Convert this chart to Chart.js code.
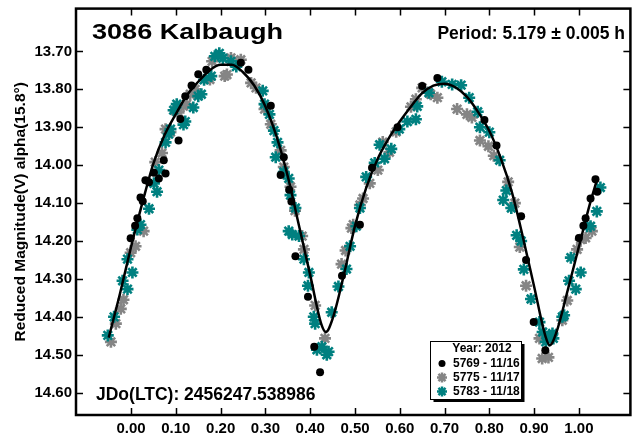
<!DOCTYPE html>
<html>
<head>
<meta charset="utf-8">
<script src="https://cdn.jsdelivr.net/npm/chart.js@4.4.0/dist/chart.umd.min.js"></script>
<style>
  html, body { margin: 0; padding: 0; background: #fff; }
  #wrap { width: 639px; height: 438px; }
</style>
</head>
<body>
<div id="wrap"><canvas id="lc" width="639" height="438"></canvas></div>
<script>
// Lightcurve 3086 Kalbaugh - phased data, three nights

const xTicks = [0.0, 0.1, 0.2, 0.3, 0.4, 0.5, 0.6, 0.7, 0.8, 0.9, 1.0];
const yTicks = [13.7, 13.8, 13.9, 14.0, 14.1, 14.2, 14.3, 14.4, 14.5, 14.6];

const seriesLabels = ['5769 - 11/16', '5775 - 11/17', '5783 - 11/18'];
const legendTitle = 'Year: 2012';

// 5769 - 11/16 (black circles)
const blackPhase = [-0.001, 0.009, 0.014, 0.021, 0.026, 0.032, 0.040, 0.051, 0.062, 0.073, 0.077, 0.106, 0.110, 0.121, 0.135, 0.150, 0.168,
  0.245, 0.262, 0.312, 0.334, 0.341, 0.353, 0.358, 0.367, 0.395, 0.409, 0.422, 0.471, 0.511, 0.538, 0.595, 0.650, 0.684,
  0.789, 0.816, 0.871, 0.882, 0.899, 0.925, 1.000, 1.010, 1.015, 1.026, 1.037, 1.041];
const blackMag = [14.193, 14.160, 14.140, 14.085, 14.095, 14.040, 14.045, 14.020, 14.035, 13.987, 14.022, 13.935, 13.878, 13.818, 13.790, 13.760, 13.748,
  13.730, 13.748, 13.843, 14.026, 13.979, 14.065, 14.096, 14.240, 14.347, 14.479, 14.546, 14.292, 14.157, 14.007, 13.900, 13.791, 13.770,
  13.881, 13.948, 14.135, 14.250, 14.414, 14.488, 14.192, 14.160, 14.140, 14.088, 14.037, 14.070];

// 5775 - 11/17 (gray asterisks)
const grayPhase = [-0.045, -0.034, -0.023, -0.017, -0.001, 0.010, 0.028, 0.054, 0.069, 0.077, 0.088, 0.099, 0.106, 0.117, 0.124, 0.132, 0.143,
  0.176, 0.181, 0.209, 0.214, 0.223, 0.245, 0.268, 0.279, 0.298, 0.312, 0.334, 0.341, 0.356, 0.366, 0.382, 0.386, 0.411, 0.433,
  0.470, 0.479, 0.492, 0.496, 0.511, 0.518, 0.533, 0.551, 0.562, 0.577, 0.592, 0.625, 0.636, 0.650, 0.669, 0.684, 0.728, 0.750,
  0.761, 0.779, 0.798, 0.810, 0.842, 0.857, 0.868, 0.882, 0.912, 0.918, 0.932, 0.963, 0.974, 0.996, 1.004, 1.015, 1.029];
const grayMag = [14.466, 14.418, 14.379, 14.355, 14.231, 14.214, 14.174, 13.992, 13.968, 13.905, 13.913, 13.857, 13.861, 13.844, 13.839, 13.813, 13.800,
  13.774, 13.726, 13.765, 13.761, 13.717, 13.722, 13.783, 13.796, 13.852, 13.892, 13.961, 14.005, 14.057, 14.120, 14.187, 14.222, 14.370, 14.457,
  14.261, 14.225, 14.166, 14.157, 14.105, 14.088, 14.048, 14.013, 13.939, 13.966, 13.912, 13.846, 13.826, 13.796, 13.813, 13.822, 13.852, 13.866,
  13.874, 13.935, 13.950, 13.975, 14.044, 14.100, 14.216, 14.318, 14.457, 14.510, 14.507, 14.409, 14.357, 14.222, 14.196, 14.192, 14.174];

// 5783 - 11/18 (teal asterisks)
const tealPhase = [-0.052, -0.038, -0.019, -0.008, -0.008, 0.003, 0.014, 0.021, 0.040, 0.051, 0.058, 0.062, 0.077, 0.084, 0.088, 0.095, 0.102,
  0.117, 0.121, 0.139, 0.150, 0.157, 0.163, 0.179, 0.187, 0.197, 0.205, 0.223, 0.235, 0.294, 0.298, 0.309, 0.319, 0.327, 0.323,
  0.341, 0.352, 0.356, 0.367, 0.352, 0.360, 0.375, 0.386, 0.397, 0.395, 0.408, 0.411, 0.415, 0.426, 0.437, 0.441, 0.448, 0.463,
  0.481, 0.489, 0.503, 0.511, 0.525, 0.544, 0.555, 0.566, 0.581, 0.599, 0.617, 0.636, 0.639, 0.665, 0.694, 0.717, 0.737, 0.755,
  0.774, 0.779, 0.800, 0.823, 0.831, 0.838, 0.849, 0.861, 0.871, 0.877, 0.893, 0.912, 0.919, 0.926, 0.934, 0.941, 0.943, 0.963,
  0.967, 0.978, 0.982, 0.993, 1.004, 1.018, 1.026, 1.040, 1.048];
const tealMag = [14.449, 14.400, 14.305, 14.327, 14.248, 14.283, 14.170, 14.157, 14.115, 14.048, 14.070, 14.013, 13.940, 13.918, 13.905, 13.855, 13.839,
  13.893, 13.885, 13.848, 13.818, 13.813, 13.775, 13.765, 13.713, 13.705, 13.718, 13.726, 13.740, 13.804, 13.839, 13.866, 13.909, 13.940, 13.979,
  14.018, 14.035, 14.079, 14.113, 14.174, 14.183, 14.187, 14.248, 14.283, 14.318, 14.400, 14.418, 14.487, 14.479, 14.500, 14.492, 14.388, 14.320,
  14.274, 14.214, 14.161, 14.113, 14.031, 13.994, 13.946, 13.983, 13.957, 13.905, 13.885, 13.879, 13.845, 13.809, 13.780, 13.787, 13.789, 13.822,
  13.859, 13.900, 13.913, 13.987, 14.092, 14.067, 14.113, 14.185, 14.200, 14.275, 14.353, 14.414, 14.440, 14.466, 14.453, 14.444, 14.457, 14.400,
  14.396, 14.305, 14.244, 14.327, 14.283, 14.161, 14.161, 14.122, 14.059];

// Fourier fit
const fitPhase = [-0.050, -0.025, 0.000, 0.025, 0.050, 0.075, 0.100, 0.125, 0.150, 0.175, 0.200, 0.225, 0.250, 0.275, 0.300, 0.325,
  0.350, 0.375, 0.400, 0.425, 0.435, 0.450, 0.475, 0.500, 0.525, 0.550, 0.575, 0.600, 0.625, 0.650, 0.675, 0.700, 0.725, 0.750,
  0.775, 0.800, 0.825, 0.850, 0.875, 0.900, 0.925, 0.935, 0.950, 0.975, 1.000, 1.025, 1.040];
const fitMag = [14.455, 14.340, 14.215, 14.100, 13.995, 13.920, 13.865, 13.815, 13.780, 13.750, 13.735, 13.735, 13.755, 13.790, 13.845, 13.925,
  14.030, 14.160, 14.290, 14.420, 14.440, 14.405, 14.290, 14.160, 14.060, 13.985, 13.930, 13.885, 13.845, 13.810, 13.790, 13.785, 13.795, 13.820,
  13.860, 13.910, 13.980, 14.070, 14.190, 14.320, 14.450, 14.475, 14.440, 14.330, 14.215, 14.100, 14.040];

const toPoints = (xs, ys) => xs.map((x, i) => ({ x: x, y: ys[i] }));

const FONT = "'Liberation Sans', Arial, sans-serif";
const TEAL = '#008080';
const GRAY = '#858585';

function drawMarker(ctx, style, color, r, x, y) {
    ctx.save();
    if (style === 'circle') {
        ctx.fillStyle = color;
        ctx.beginPath();
        ctx.arc(x, y, r, 0, Math.PI * 2);
        ctx.fill();
    } else {
        ctx.strokeStyle = color;
        ctx.lineWidth = 2.5;
        ctx.beginPath();
        for (let k = 0; k < 4; k++) {
            const a = k * Math.PI / 4;
            ctx.moveTo(x - Math.cos(a) * r, y - Math.sin(a) * r);
            ctx.lineTo(x + Math.cos(a) * r, y + Math.sin(a) * r);
        }
        ctx.stroke();
    }
    ctx.restore();
}

function stretchText(ctx, text, x, y, width) {
    const w = ctx.measureText(text).width;
    ctx.save();
    ctx.translate(x, y);
    ctx.scale(width / w, 1);
    ctx.fillText(text, 0, 0);
    ctx.restore();
}

// frame, inward ticks, labels and boxed legend
const framePlugin = {
    id: 'frame',
    afterDraw(chart) {
        const ctx = chart.ctx;
        const a = chart.chartArea;
        const xs = chart.scales.x, ys = chart.scales.y;
        const tl = 7;

        ctx.save();
        ctx.strokeStyle = '#000';
        ctx.lineWidth = 1.5;
        ctx.beginPath();
        xs.ticks.forEach(t => {
            const px = Math.round(xs.getPixelForValue(t.value)) + 0.5;
            ctx.moveTo(px, a.bottom); ctx.lineTo(px, a.bottom - tl);
            ctx.moveTo(px, a.top); ctx.lineTo(px, a.top + tl);
        });
        ys.ticks.forEach(t => {
            const py = Math.round(ys.getPixelForValue(t.value)) + 0.5;
            ctx.moveTo(a.left, py); ctx.lineTo(a.left + tl, py);
            ctx.moveTo(a.right, py); ctx.lineTo(a.right - tl, py);
        });
        ctx.stroke();

        ctx.lineWidth = 2.5;
        ctx.strokeRect(a.left, a.top, a.right - a.left, a.bottom - a.top);

        // texts
        ctx.fillStyle = '#000';
        ctx.textBaseline = 'alphabetic';
        ctx.textAlign = 'left';
        ctx.font = 'bold 22px ' + FONT;
        stretchText(ctx, '3086 Kalbaugh', 92, 38.5, 191);

        ctx.font = 'bold 17.5px ' + FONT;
        ctx.textAlign = 'right';
        ctx.fillText('Period: 5.179 \u00b1 0.005 h', 625, 38.5);
        ctx.textAlign = 'left';
        ctx.fillText('JDo(LTC): 2456247.538986', 96, 400);

        // legend box
        const bx = 430.5, by = 341, bw = 91, bh = 58;
        ctx.fillStyle = '#000';
        ctx.fillRect(bx + 3, by + 3, bw, bh);
        ctx.fillStyle = '#fff';
        ctx.fillRect(bx, by, bw, bh);
        ctx.lineWidth = 1;
        ctx.strokeRect(bx, by + 0.5, bw, bh);

        ctx.fillStyle = '#000';
        ctx.font = 'bold 12px ' + FONT;
        ctx.textBaseline = 'middle';
        ctx.textAlign = 'center';
        ctx.fillText(legendTitle, 482, 349);
        ctx.textAlign = 'left';
        const rows = [363.5, 377.5, 391.5];
        const styles = [['circle', '#000', 3.5], ['star', GRAY, 5], ['star', TEAL, 5]];
        seriesLabels.forEach((lab, i) => {
            drawMarker(ctx, styles[i][0], styles[i][1], styles[i][2], 442, rows[i]);
            ctx.fillStyle = '#000';
            ctx.fillText(lab, 453, rows[i] + 0.5);
        });
        ctx.restore();
    }
};

new Chart(document.getElementById('lc'), {
    type: 'scatter',
    data: {
        datasets: [{
            label: 'fit',
            data: toPoints(fitPhase, fitMag),
            showLine: true,
            borderColor: '#000',
            borderWidth: 2.5,
            pointRadius: 0,
            cubicInterpolationMode: 'monotone',
            order: 0
        }, {
            label: seriesLabels[0],
            data: toPoints(blackPhase, blackMag),
            pointStyle: 'circle',
            pointRadius: 4,
            backgroundColor: '#000',
            borderColor: '#000',
            borderWidth: 0,
            order: 1
        }, {
            label: seriesLabels[2],
            data: toPoints(tealPhase, tealMag),
            pointStyle: 'star',
            pointRadius: 6,
            borderColor: TEAL,
            borderWidth: 2.6,
            order: 2
        }, {
            label: seriesLabels[1],
            data: toPoints(grayPhase, grayMag),
            pointStyle: 'star',
            pointRadius: 6,
            borderColor: GRAY,
            borderWidth: 2.6,
            order: 3
        }]
    },
    options: {
        responsive: false,
        animation: false,
        layout: { padding: { top: 4, right: 2, left: 0, bottom: 0 } },
        plugins: {
            legend: { display: false },
            tooltip: { enabled: false }
        },
        scales: {
            x: {
                type: 'linear',
                min: -0.123,
                max: 1.115,
                grid: { display: false, drawTicks: false },
                border: { display: false },
                afterBuildTicks: s => { s.ticks = xTicks.map(v => ({ value: v })); },
                afterFit: s => { s.height = 23; s.paddingLeft = 0; s.paddingRight = 0; },
                ticks: {
                    padding: 5,
                    color: '#000',
                    font: { family: FONT, size: 15, weight: 'bold' },
                    callback: v => Number(v).toFixed(2)
                }
            },
            y: {
                type: 'linear',
                reverse: true,
                min: 13.587,
                max: 14.659,
                grid: { display: false, drawTicks: false },
                border: { display: false },
                afterBuildTicks: s => { s.ticks = yTicks.map(v => ({ value: v })); },
                afterFit: s => { s.width = 76; s.paddingTop = 0; s.paddingBottom = 0; },
                title: {
                    display: true,
                    text: 'Reduced Magnitude(V) alpha(15.8\u00b0)',
                    color: '#000',
                    font: { family: FONT, size: 15.5, weight: 'bold' },
                    padding: { top: 11, bottom: 0 }
                },
                ticks: {
                    padding: 4,
                    color: '#000',
                    font: { family: FONT, size: 15, weight: 'bold' },
                    callback: v => Number(v).toFixed(2)
                }
            }
        }
    },
    plugins: [framePlugin]
});
</script>
</body>
</html>
